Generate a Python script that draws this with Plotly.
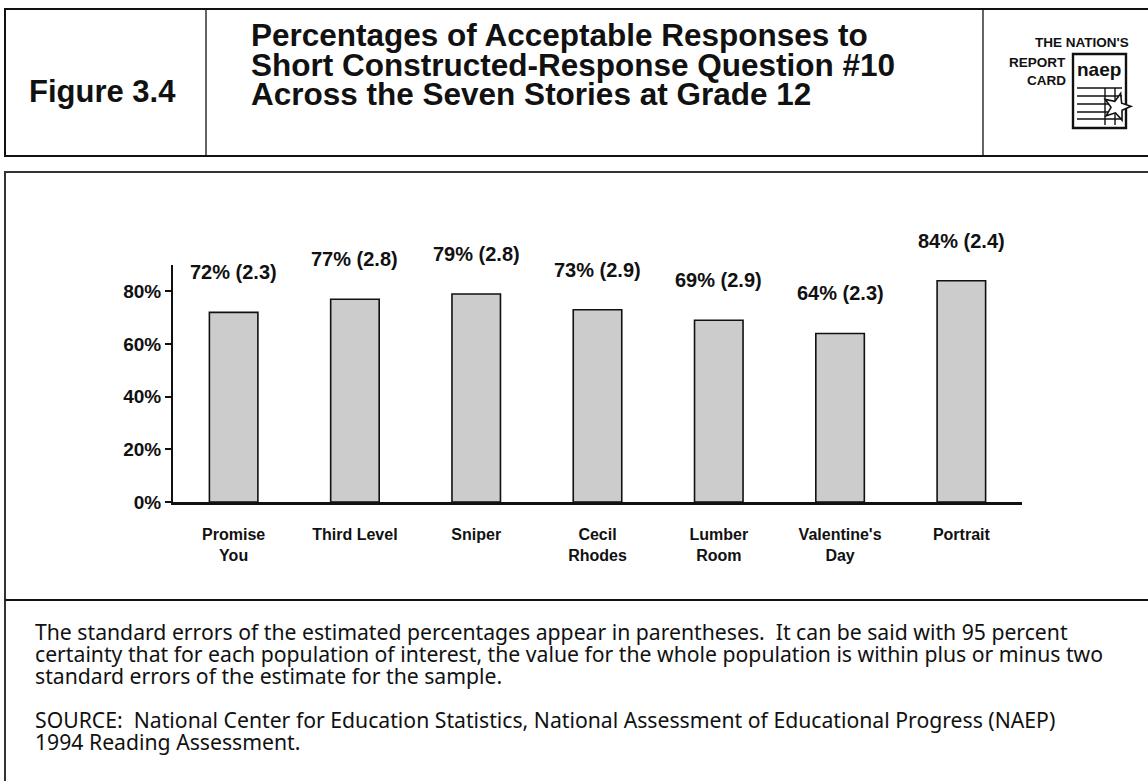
import math
import plotly.graph_objects as go

# Story names (two-line tick labels) and results
stories = ["Promise<br>You", "Third Level", "Sniper", "Cecil<br>Rhodes",
           "Lumber<br>Room", "Valentine's<br>Day", "Portrait"]
pct_acceptable = [72, 77, 79, 73, 69, 64, 84]
std_error = [2.3, 2.8, 2.8, 2.9, 2.9, 2.3, 2.4]
y_ticks = [0, 20, 40, 60, 80]
y_tick_text = ["0%", "20%", "40%", "60%", "80%"]

figure_label = "Figure 3.4"
title_lines = [
    "Percentages of Acceptable Responses to",
    "Short Constructed-Response Question #10",
    "Across the Seven Stories at Grade 12",
]
note_lines = [
    "The standard errors of the estimated percentages appear in parentheses.\u00a0 It can be said with 95 percent",
    "certainty that for each population of interest, the value for the whole population is within plus or minus two",
    "standard errors of the estimate for the sample.",
]
source_lines = [
    "SOURCE:\u00a0 National Center for Education Statistics, National Assessment of Educational Progress (NAEP)",
    "1994 Reading Assessment.",
]

W, H = 1148, 781
ML, MR, MT, MB = 173, 126, 265, 279
PW, PH = W - ML - MR, H - MT - MB

SANS = "Liberation Sans, Arial, sans-serif"
BODY = "Noto Sans, Liberation Sans, sans-serif"
INK = "#111111"


def px(x):
    return (x - ML) / PW


def py(y):
    return (H - MB - y) / PH


fig = go.Figure()
fig.add_trace(go.Bar(
    x=list(range(len(stories))),
    y=pct_acceptable,
    width=0.4,
    marker=dict(color="#cccccc", line=dict(color=INK, width=1.6)),
    hoverinfo="skip",
))

annotations = []


def note(text, x, y, size, family=SANS, anchor="left"):
    annotations.append(dict(
        x=px(x), y=py(y), xref="paper", yref="paper", text=text,
        showarrow=False, xanchor=anchor, yanchor="middle",
        font=dict(family=family, size=size, color=INK),
    ))


# value labels with standard errors above each bar
for i, (v, se) in enumerate(zip(pct_acceptable, std_error)):
    annotations.append(dict(
        x=i, y=v, xref="x", yref="y", text=f"<b>{v}% ({se})</b>",
        showarrow=False, yshift=40, yanchor="middle",
        font=dict(family=SANS, size=20, color=INK),
    ))

# header block
note(f"<b>{figure_label}</b>", 102, 91, 31, anchor="center")
for k, txt in enumerate(title_lines):
    note(f"<b>{txt}</b>", 249, 35 + 29.5 * k, 31.5)

# report card emblem text
note("<b>THE NATION'S</b>", 1131, 43, 13.5, anchor="right")
note("<b>REPORT</b>", 1068, 62, 13.5, anchor="right")
note("<b>CARD</b>", 1068, 80, 13.5, anchor="right")
note("<b>naep</b>", 1099, 69, 19, anchor="center")

# notes under the chart
for k, txt in enumerate(note_lines):
    note(txt, 33, 631 + 22 * k, 21.2, family=BODY)
for k, txt in enumerate(source_lines):
    note(txt, 33, 719 + 22 * k, 21.2, family=BODY)

shapes = []


def line(x0, y0, x1, y1, w=2, c=INK):
    shapes.append(dict(type="line", xref="paper", yref="paper",
                       x0=px(x0), y0=py(y0), x1=px(x1), y1=py(y1),
                       line=dict(color=c, width=w)))


def rect(x0, y0, x1, y1, w=2, c=INK, fill="rgba(0,0,0,0)"):
    shapes.append(dict(type="rect", xref="paper", yref="paper",
                       x0=px(x0), y0=py(y0), x1=px(x1), y1=py(y1),
                       line=dict(color=c, width=w), fillcolor=fill))


# frames
rect(5, 9, 1152, 156, w=2)
line(206, 9, 206, 156, w=1.3)
line(983, 9, 983, 156, w=1.3)
rect(5, 172, 1152, 790, w=2, c="#333333")
line(5, 600, 1152, 600, w=2)

# emblem: report card sheet with grid and star
rect(1073, 54, 1126, 128, w=2.4)
for yy in (88, 96, 104, 112, 119):
    line(1077, yy, 1122, yy, w=1.6)
for xx in (1105, 1115):
    line(xx, 88, xx, 125, w=1.4)

cx, cy, ro, ri = 1117, 107, 14, 6
pts = []
for j in range(10):
    r = ro if j % 2 == 0 else ri
    a = math.radians(-90 + 36 * j + 15)
    pts.append((cx + r * math.cos(a), cy + r * math.sin(a)))
path = "M " + " L ".join(f"{px(a)},{py(b)}" for a, b in pts) + " Z"
shapes.append(dict(type="path", xref="paper", yref="paper", path=path,
                   fillcolor="white", line=dict(color=INK, width=1.6)))

fig.update_layout(
    width=W, height=H, autosize=False,
    margin=dict(l=ML, r=MR, t=MT, b=MB, pad=0),
    paper_bgcolor="white", plot_bgcolor="white",
    showlegend=False,
    annotations=annotations,
    shapes=shapes,
    xaxis=dict(
        range=[-0.5, len(stories) - 0.5],
        tickmode="array", tickvals=list(range(len(stories))), ticktext=stories,
        showline=True, linecolor=INK, linewidth=2.5,
        ticks="outside", ticklen=16, tickcolor="rgba(0,0,0,0)",
        tickfont=dict(family=SANS, size=16, color=INK, weight="bold"),
        showgrid=False, zeroline=False, fixedrange=True,
    ),
    yaxis=dict(
        range=[0, 90],
        tickmode="array", tickvals=y_ticks, ticktext=y_tick_text,
        showline=True, linecolor=INK, linewidth=2,
        ticks="outside", ticklen=6, tickwidth=2, tickcolor=INK,
        tickfont=dict(family=SANS, size=19, color=INK, weight="bold"),
        showgrid=False, zeroline=False, fixedrange=True,
    ),
)

fig.write_html("out.html", config={"displayModeBar": False})
